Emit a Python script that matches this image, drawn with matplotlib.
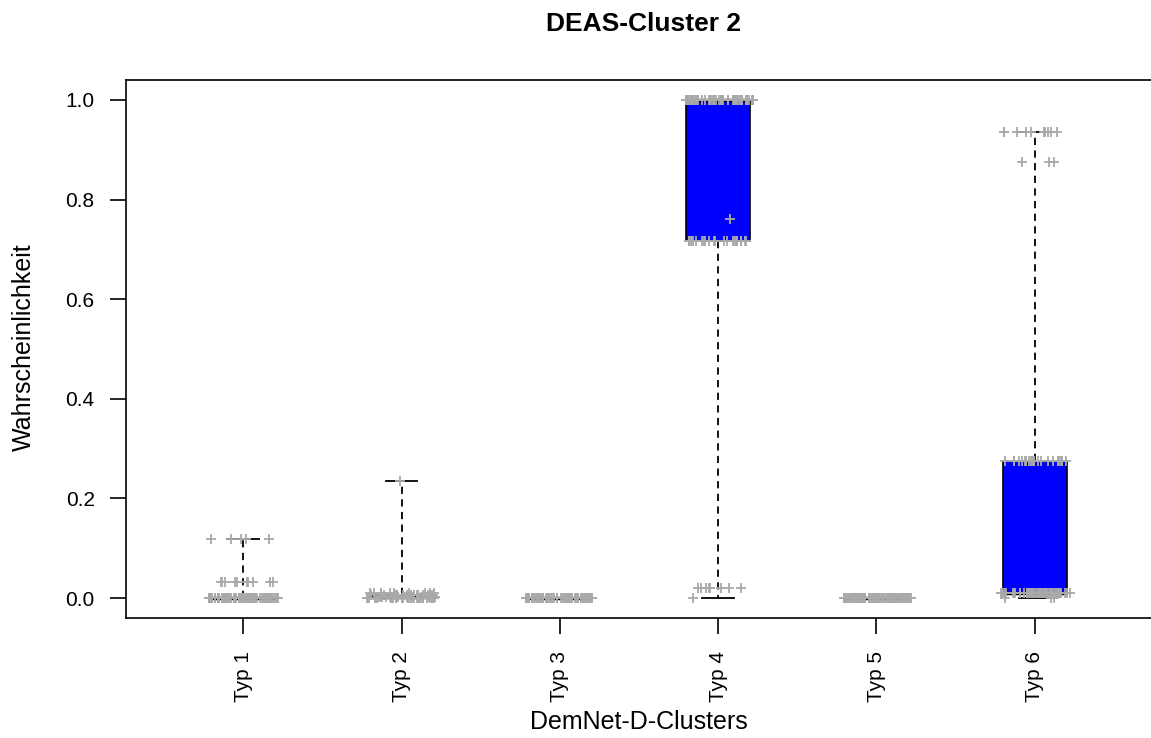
import numpy as np
import matplotlib
matplotlib.use('Agg')
import matplotlib.pyplot as plt

plt.rcParams['font.family'] = ['Liberation Sans', 'DejaVu Sans']

# probabilities per DemNet-D cluster (value, count)
typ_labels = ["Typ 1", "Typ 2", "Typ 3", "Typ 4", "Typ 5", "Typ 6"]
typ1_vals = [0.0] * 80 + [0.033] * 10 + [0.118] * 5
typ2_vals = [0.0] * 30 + [0.003] * 15 + [0.006] * 15 + [0.01] * 10 + [0.236]
typ3_vals = [0.0] * 80
typ4_vals = [0.0] + [0.02] * 8 + [0.716] * 25 + [0.76] + [1.0] * 60
typ5_vals = [0.0] * 80
typ6_vals = [0.0] * 3 + [0.01] * 60 + [0.275] * 25 + [0.875] * 3 + [0.935] * 10

groups = [typ1_vals, typ2_vals, typ3_vals, typ4_vals, typ5_vals, typ6_vals]
positions = np.arange(1, len(groups) + 1)

fig = plt.figure(figsize=(11.51, 7.38), dpi=100)
ax = fig.add_axes([126 / 1151, 1 - 618 / 738, 1026 / 1151, (618 - 80) / 738])

ax.boxplot(
    groups,
    positions=positions,
    widths=0.4,
    whis=(0, 100),
    patch_artist=True,
    showfliers=False,
    boxprops=dict(facecolor='#0000FF', edgecolor='black', linewidth=1.2),
    medianprops=dict(color='black', linewidth=2.5),
    whiskerprops=dict(color='black', linestyle=(0, (4, 3)), linewidth=1.3),
    capprops=dict(color='black', linewidth=1.3),
    capwidths=0.2,
)

# jittered raw points on top of the boxes
rng = np.random.default_rng(7)
for pos, vals in zip(positions, groups):
    xs = pos + rng.uniform(-0.22, 0.22, len(vals))
    ax.plot(xs, vals, linestyle='none', marker='+', color='#A9A9A9',
            markersize=7, markeredgewidth=1.3, zorder=5)

ax.set_xlim(0.26, 6.74)
ax.set_ylim(-0.04, 1.04)
ax.set_yticks([0.0, 0.2, 0.4, 0.6, 0.8, 1.0])
ax.set_yticklabels(["0.0", "0.2", "0.4", "0.6", "0.8", "1.0"])
ax.set_xticks(positions)
ax.set_xticklabels(typ_labels, rotation=90)
ax.tick_params(axis='both', labelsize=15, length=11.5, width=1.2, direction='out')
ax.tick_params(axis='y', pad=11)
ax.tick_params(axis='x', pad=12)

for side in ax.spines.values():
    side.set_linewidth(1.2)

fig.text((126 + 1152) / 2 / 1151, 1 - 729 / 738, "DemNet-D-Clusters",
         fontsize=18, ha='center', va='baseline')
fig.text(24 / 1151, 1 - 347 / 738, "Wahrscheinlichkeit",
         fontsize=18, rotation=90, ha='center', va='center')
fig.text(644 / 1151, 1 - 31 / 738, "DEAS-Cluster 2",
         fontsize=19, fontweight='bold', ha='center', va='baseline')

fig.savefig("out.png", dpi=100)
